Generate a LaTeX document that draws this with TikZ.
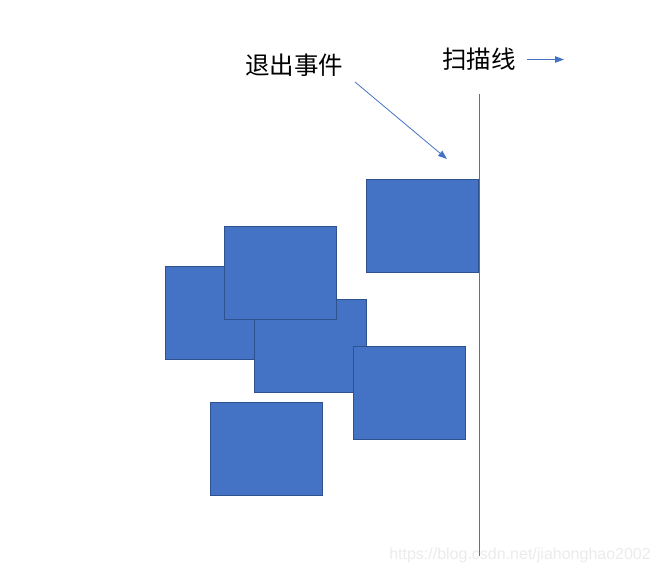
\documentclass[tikz,border=0pt]{standalone}
\usepackage{fontspec}
\setmainfont{Liberation Sans}
\newfontfamily\cjk{Noto Sans CJK SC}
\usetikzlibrary{arrows.meta}
\definecolor{boxfill}{HTML}{4472C4}
\definecolor{boxedge}{HTML}{2F528F}
\definecolor{linecol}{HTML}{4472C4}
\tikzset{
  box/.style={draw=boxedge, line width=0.7pt, fill=boxfill, minimum width=112pt, minimum height=93pt, inner sep=0pt, anchor=north west},
  lbl/.style={font=\cjk\fontsize{24.5}{27}\selectfont, inner sep=0pt},
  arr/.style={draw=linecol, line width=0.8pt, -{Triangle[length=9pt,width=6.5pt]}},
}
\begin{document}
\begin{tikzpicture}[x=1pt,y=-1pt]
\useasboundingbox (0,0) rectangle (660,574);
\node[box] (r1) at (165.3,266.3) {};
\node[box] (r3) at (254.3,299.3) {};
\node[box] (r2) at (224.3,226.3) {};
\node[box] (r4) at (366.3,179.3) {};
\node[box] (r5) at (353.3,346.3) {};
\node[box] (r6) at (210.3,402.3) {};
\coordinate (lt) at (479.5,94);
\coordinate (lb) at (479.5,556);
\draw[draw=linecol, line width=0.8pt] (lt) -- (lb);
\node[lbl] (exit) at (294,65) {退出事件};
\node[lbl] (scan) at (479,59) {扫描线};
\coordinate (ea) at (355,82);
\coordinate (eb) at (447,159);
\draw[arr] (ea) -- (eb);
\coordinate (sa) at (527,59.5);
\coordinate (sb) at (564,59.5);
\draw[arr] (sa) -- (sb);
\node[text=black!8, font=\fontsize{16}{18}\selectfont, inner sep=0pt, anchor=east] (wm) at (651,555) {https://blog.csdn.net/jiahonghao2002};
\end{tikzpicture}
\end{document}
